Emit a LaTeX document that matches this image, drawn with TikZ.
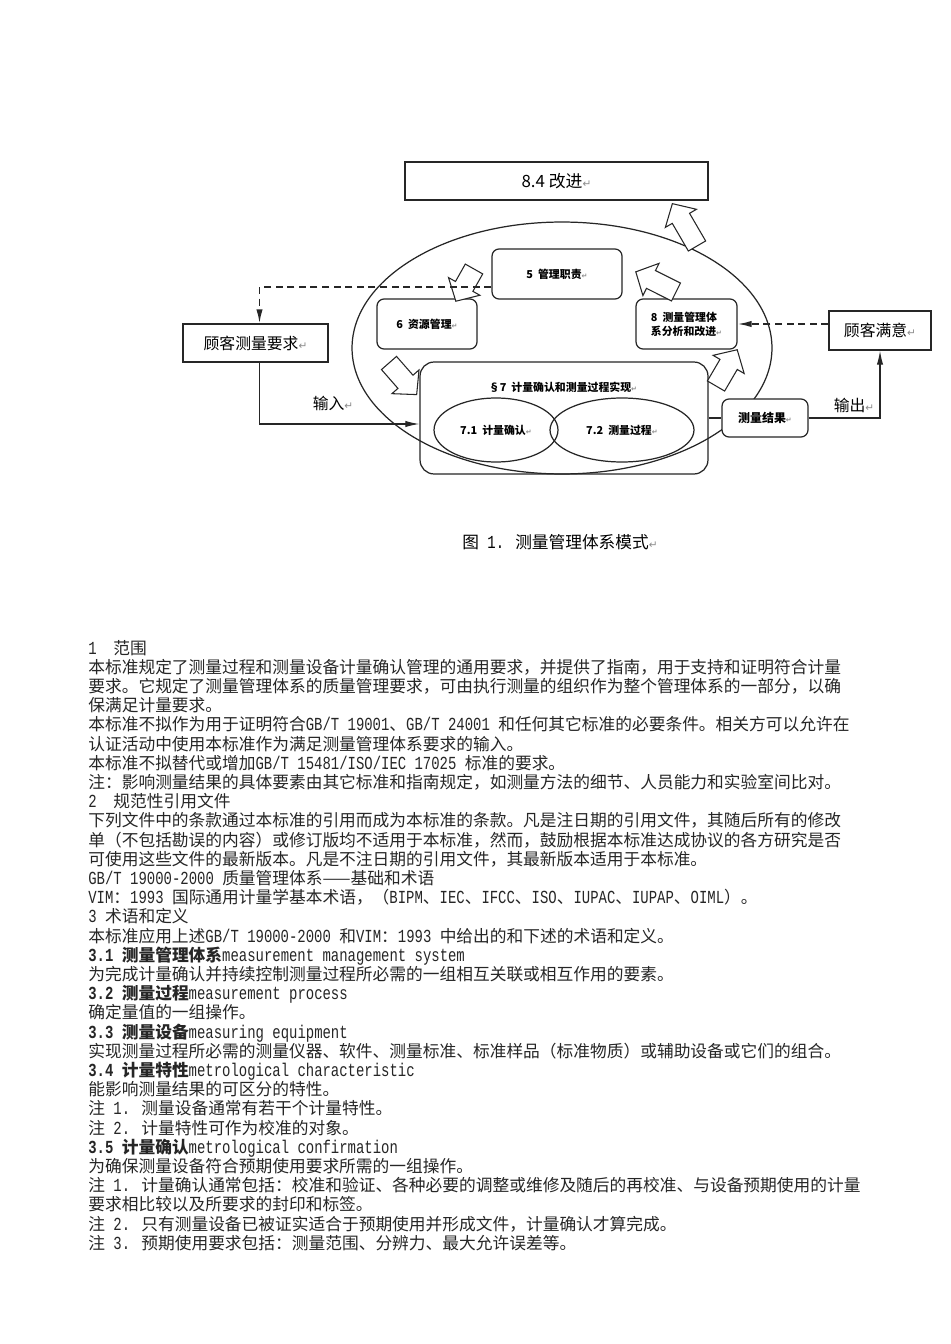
\documentclass[tikz,border=0pt]{standalone}
\usepackage{fontspec}
\setmainfont{Noto Sans CJK SC}
\newfontfamily\mono{Liberation Mono}[Scale=1.1,FakeStretch=0.758]
\newfontfamily\symf{DejaVu Sans}
\usetikzlibrary{arrows.meta,calc,shapes.geometric}
\newcommand\retm[1][6]{{\symf\color{black!45}\fontsize{#1pt}{#1pt}\selectfont ↵}}
\newcommand\mt[1]{{\mono #1}}
\newcommand\blockarr[4]{\begin{scope}[shift={(#1,#2)},rotate=#3]
\draw[blk] (0,-10) -- ({#4-17},-10) -- ({#4-17},-18) -- (#4,0) -- ({#4-17},18) -- ({#4-17},10) -- (0,10) -- cycle;
\end{scope}}
\begin{document}
\begin{tikzpicture}[x=0.02cm,y=-0.02cm,
 ln/.style={draw=black!85, line width=0.7pt},
 sqbox/.style={ln, rectangle, inner sep=0pt, fill=white},
 rbox/.style={ln, rectangle, rounded corners=4pt, inner sep=0pt},
 biglbl/.style={font=\fontsize{9pt}{10pt}\selectfont},
 smlbl/.style={font=\bfseries\fontsize{6.2pt}{8pt}\selectfont},
 conn/.style={draw=black!85, line width=0.7pt},
 tip/.style={-{Latex[length=8pt,width=3.6pt]}},
 dsh/.style={dash pattern=on 4pt off 2.6pt, line width=0.9pt},
 blk/.style={draw=black!85, line width=0.6pt, fill=white, line join=miter},
 bl/.style={anchor=base west, inner sep=0pt, font=\fontsize{9.52pt}{11pt}\selectfont, text=black!85},
]
\useasboundingbox (0,0) rectangle (950,1344);
\fill[white] (0,0) rectangle (950,1344);

% outer ellipse
\node[ellipse, ln, minimum width=8.4cm, minimum height=5.04cm, inner sep=0pt] (sys) at (562,348) {};

% boxes
\node[sqbox, minimum width=6.06cm, minimum height=0.76cm, font=\fontsize{9.6pt}{10pt}\selectfont] (imp) at (556.5,181) {8.4 改进\retm};
\node[sqbox, minimum width=2.9cm, minimum height=0.76cm, biglbl] (req) at (255.5,343) {顾客测量要求\retm};
\node[sqbox, minimum width=2.04cm, minimum height=0.78cm, biglbl] (sat) at (880,330.5) {顾客满意\retm};
\node[rbox, minimum width=2.6cm, minimum height=1.0cm, smlbl] (m5) at (557,274) {5\ \ 管理职责\retm[4]};
\node[rbox, minimum width=2.0cm, minimum height=1.0cm, smlbl] (m6) at (427,324) {6\ \ 资源管理\retm[4]};
\node[rbox, minimum width=2.02cm, minimum height=1.0cm, smlbl, align=left] (m8) at (686.5,324) {8\ \ 测量管理体\\系分析和改进\retm[4]};
\node[rbox, rounded corners=8pt, minimum width=5.76cm, minimum height=2.24cm] (m7) at (564,418) {};
\node[smlbl] (m7t) at (563,387) {§7\ \ 计量确认和测量过程实现\retm[4]};
\node[ellipse, ln, minimum width=2.48cm, minimum height=1.28cm, inner sep=0pt, smlbl] (e71) at (496,430) {7.1\ \ 计量确认\retm[4]};
\node[ellipse, ln, minimum width=2.88cm, minimum height=1.28cm, inner sep=0pt, smlbl] (e72) at (622,430) {7.2\ \ 测量过程\retm[4]};
\node[rbox, fill=white, minimum width=1.72cm, minimum height=0.76cm, smlbl, font=\bfseries\fontsize{6.8pt}{8pt}\selectfont] (res) at (765,418) {测量结果\retm[4]};

% block arrows
\blockarr{697}{246}{120.2}{49}
\blockarr{474}{269}{-119.4}{37}
\blockarr{676}{292}{153.4}{45}
\blockarr{716}{386}{59.7}{42}
\blockarr{389}{363}{-48.8}{42}

% connectors
\draw[conn, dsh, tip] ($(m5.west)+(0,13)$) -| ($(req.north)+(4,0)$);
\draw[conn, dsh, tip] (m8.east -| sat.west) -- (m8.east);
\draw[conn, tip] ($(req.south)+(4,0)$) |- ($(m7.west)+(0,6)$);
\draw[conn] (m7.east |- res.west) -- (res.west);
\draw[conn, tip] (res.east) -| (sat.south);

\node[biglbl] (inlbl) at (333,403) {输入\retm};
\node[biglbl] (outlbl) at (854,405) {输出\retm};

\node[font=\fontsize{9.5pt}{10pt}\selectfont] (cap) at (560,542) {图\mt{ 1. }测量管理体系模式\retm};

% body text
\node[bl] (t0) at (88,654) {\mt{1\ \ }范围};
\node[bl] (t1) at (88,673.2) {本标准规定了测量过程和测量设备计量确认管理的通用要求，并提供了指南，用于支持和证明符合计量};
\node[bl] (t2) at (88,692.4) {要求。它规定了测量管理体系的质量管理要求，可由执行测量的组织作为整个管理体系的一部分，以确};
\node[bl] (t3) at (88,711.6) {保满足计量要求。};
\node[bl] (t4) at (88,730.8) {本标准不拟作为用于证明符合\mt{GB/T 19001}、\mt{GB/T 24001 }和任何其它标准的必要条件。相关方可以允许在};
\node[bl] (t5) at (88,750) {认证活动中使用本标准作为满足测量管理体系要求的输入。};
\node[bl] (t6) at (88,769.2) {本标准不拟替代或增加\mt{GB/T 15481/ISO/IEC 17025 }标准的要求。};
\node[bl] (t7) at (88,788.4) {注：影响测量结果的具体要素由其它标准和指南规定，如测量方法的细节、人员能力和实验室间比对。};
\node[bl] (t8) at (88,807.6) {\mt{2\ \ }规范性引用文件};
\node[bl] (t9) at (88,826.8) {下列文件中的条款通过本标准的引用而成为本标准的条款。凡是注日期的引用文件，其随后所有的修改};
\node[bl] (t10) at (88,846) {单（不包括勘误的内容）或修订版均不适用于本标准，然而，鼓励根据本标准达成协议的各方研究是否};
\node[bl] (t11) at (88,865.2) {可使用这些文件的最新版本。凡是不注日期的引用文件，其最新版本适用于本标准。};
\node[bl] (t12) at (88,884.4) {\mt{GB/T 19000-2000 }质量管理体系——基础和术语};
\node[bl] (t13) at (88,903.6) {\mt{VIM}：\mt{1993 }国际通用计量学基本术语，（\mt{BIPM}、\mt{IEC}、\mt{IFCC}、\mt{ISO}、\mt{IUPAC}、\mt{IUPAP}、\mt{OIML}）。};
\node[bl] (t14) at (88,922.8) {\mt{3 }术语和定义};
\node[bl] (t15) at (88,942) {本标准应用上述\mt{GB/T 19000-2000 }和\mt{VIM}：\mt{1993 }中给出的和下述的术语和定义。};
\node[bl] (t16) at (88,961.2) {{\bfseries\mt{3.1 }测量管理体系}\mt{measurement management system}};
\node[bl] (t17) at (88,980.4) {为完成计量确认并持续控制测量过程所必需的一组相互关联或相互作用的要素。};
\node[bl] (t18) at (88,999.6) {{\bfseries\mt{3.2 }测量过程}\mt{measurement process}};
\node[bl] (t19) at (88,1018.8) {确定量值的一组操作。};
\node[bl] (t20) at (88,1038) {{\bfseries\mt{3.3 }测量设备}\mt{measuring equipment}};
\node[bl] (t21) at (88,1057.2) {实现测量过程所必需的测量仪器、软件、测量标准、标准样品（标准物质）或辅助设备或它们的组合。};
\node[bl] (t22) at (88,1076.4) {{\bfseries\mt{3.4 }计量特性}\mt{metrological characteristic}};
\node[bl] (t23) at (88,1095.6) {能影响测量结果的可区分的特性。};
\node[bl] (t24) at (88,1114.8) {注\mt{ 1. }测量设备通常有若干个计量特性。};
\node[bl] (t25) at (88,1134) {注\mt{ 2. }计量特性可作为校准的对象。};
\node[bl] (t26) at (88,1153.2) {{\bfseries\mt{3.5 }计量确认}\mt{metrological confirmation}};
\node[bl] (t27) at (88,1172.4) {为确保测量设备符合预期使用要求所需的一组操作。};
\node[bl] (t28) at (88,1191.6) {注\mt{ 1. }计量确认通常包括：校准和验证、各种必要的调整或维修及随后的再校准、与设备预期使用的计量};
\node[bl] (t29) at (88,1210.8) {要求相比较以及所要求的封印和标签。};
\node[bl] (t30) at (88,1230) {注\mt{ 2. }只有测量设备已被证实适合于预期使用并形成文件，计量确认才算完成。};
\node[bl] (t31) at (88,1249.2) {注\mt{ 3. }预期使用要求包括：测量范围、分辨力、最大允许误差等。};
\end{tikzpicture}
\end{document}
